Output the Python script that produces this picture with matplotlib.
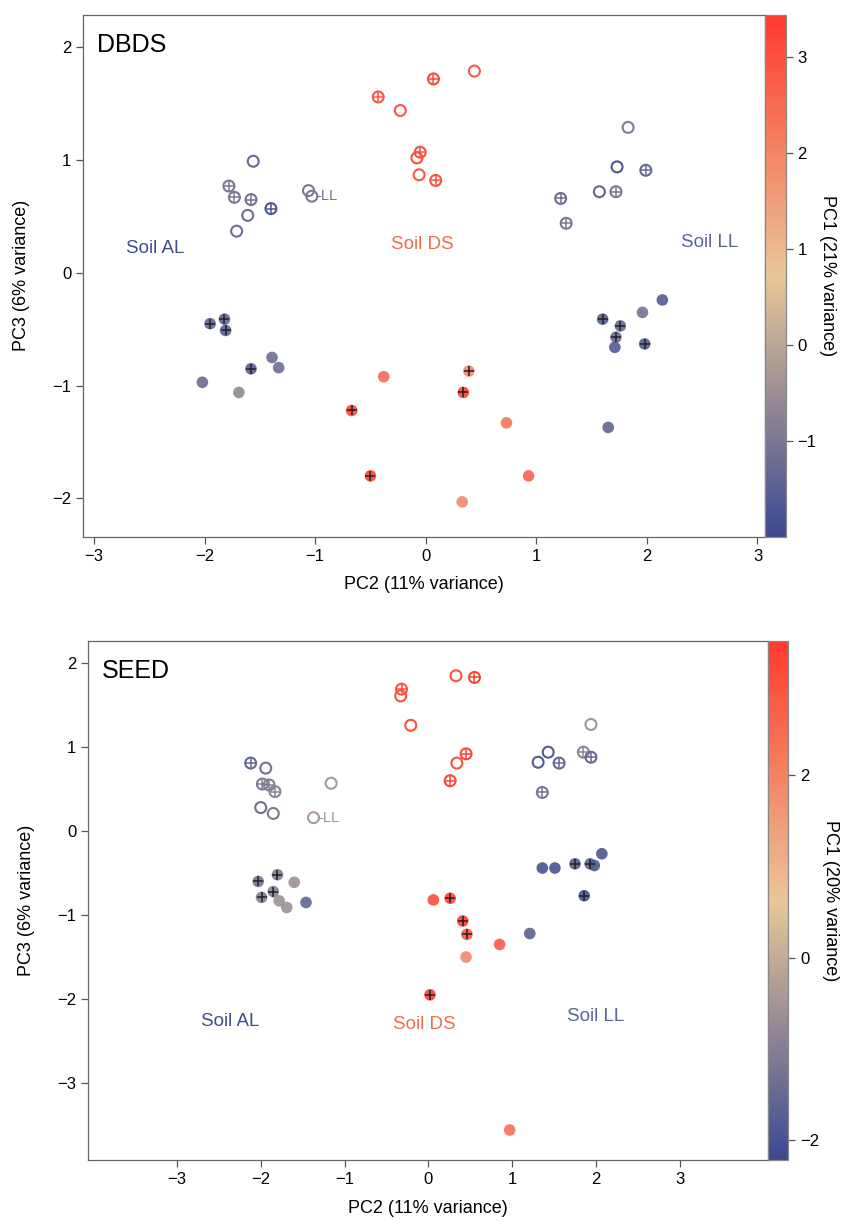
import matplotlib
matplotlib.use("Agg")
import matplotlib.pyplot as plt
import numpy as np
from matplotlib.colors import LinearSegmentedColormap, Normalize

plt.rcParams['font.family'] = ['Liberation Sans', 'DejaVu Sans']

# ---------------- DBDS panel data ----------------
dbds_x = [-1.56, -1.78, -1.73, -1.58, -1.40, -1.61, -1.71, -1.06, -1.03,
          -0.43, 0.07, 0.44, -0.23, -0.05, -0.08, -0.06, 0.09,
          1.83, 1.73, 1.99, 1.57, 1.72, 1.22, 1.27,
          -1.95, -1.82, -1.81, -1.39, -1.33, -1.58, -2.02, -1.69,
          -0.38, 0.39, 0.34, -0.67, 0.73, -0.50, 0.93, 0.33,
          2.14, 1.96, 1.60, 1.76, 1.72, 1.71, 1.98, 1.65]
dbds_y = [0.99, 0.77, 0.67, 0.65, 0.57, 0.51, 0.37, 0.73, 0.68,
          1.56, 1.72, 1.79, 1.44, 1.07, 1.02, 0.87, 0.82,
          1.29, 0.94, 0.91, 0.72, 0.72, 0.66, 0.44,
          -0.45, -0.41, -0.51, -0.75, -0.84, -0.85, -0.97, -1.06,
          -0.92, -0.87, -1.06, -1.22, -1.33, -1.80, -1.80, -2.03,
          -0.24, -0.35, -0.41, -0.47, -0.57, -0.66, -0.63, -1.37]
dbds_pc1 = [-1.3, -1.0, -1.0, -1.1, -1.7, -1.2, -1.2, -1.0, -1.0,
            2.9, 3.1, 2.8, 2.9, 3.0, 3.0, 2.9, 3.0,
            -0.9, -1.7, -1.3, -1.4, -1.0, -1.2, -1.0,
            -1.4, -1.4, -1.5, -1.2, -1.2, -1.5, -1.3, -0.6,
            2.5, 1.9, 3.3, 3.3, 2.3, 3.3, 2.6, 1.9,
            -1.6, -1.1, -1.6, -1.3, -1.3, -1.6, -1.6, -1.4]
dbds_filled = [0]*24 + [1]*24
dbds_cross = [0, 1, 1, 1, 1, 0, 0, 0, 0,
              1, 1, 0, 0, 1, 0, 0, 1,
              0, 0, 1, 0, 1, 1, 1,
              1, 1, 1, 0, 0, 1, 0, 0,
              0, 1, 1, 1, 0, 1, 0, 0,
              0, 0, 1, 1, 1, 0, 1, 0]
dbds_ll_label = (-1.03, 0.68)
dbds_groups = ["Soil AL", "Soil DS", "Soil LL"]
dbds_group_xy = [(-2.45, 0.22), (-0.03, 0.25), (2.57, 0.27)]

# ---------------- SEED panel data ----------------
seed_x = [-2.12, -1.94, -1.98, -1.90, -1.83, -2.00, -1.85, -1.16, -1.37,
          -0.32, -0.33, -0.21, 0.33, 0.55, 0.45, 0.34, 0.26,
          1.94, 1.43, 1.31, 1.56, 1.85, 1.94, 1.36,
          -2.03, -1.80, -1.60, -1.85, -1.99, -1.78, -1.69, -1.46,
          0.06, 0.26, 0.41, 0.46, 1.21, 0.85, 0.45, 0.02, 0.97,
          1.36, 1.51, 1.75, 1.93, 1.98, 2.07, 1.86]
seed_y = [0.81, 0.75, 0.56, 0.55, 0.47, 0.28, 0.21, 0.57, 0.16,
          1.69, 1.61, 1.26, 1.85, 1.83, 0.92, 0.81, 0.60,
          1.27, 0.94, 0.82, 0.81, 0.94, 0.88, 0.46,
          -0.60, -0.52, -0.61, -0.72, -0.79, -0.83, -0.91, -0.85,
          -0.82, -0.80, -1.07, -1.23, -1.22, -1.35, -1.50, -1.95, -3.56,
          -0.44, -0.44, -0.39, -0.39, -0.41, -0.27, -0.77]
seed_pc1 = [-1.5, -1.3, -1.1, -1.0, -0.9, -1.4, -1.1, -0.4, -0.4,
            3.0, 3.0, 3.0, 3.0, 3.3, 3.2, 3.0, 3.2,
            -0.5, -1.8, -1.8, -1.5, -0.9, -1.5, -1.2,
            -1.2, -1.1, -0.6, -1.0, -1.0, -0.6, -0.6, -1.6,
            3.1, 3.3, 3.4, 2.9, -1.7, 2.8, 1.9, 3.4, 2.4,
            -2.0, -2.0, -1.8, -1.6, -1.9, -1.9, -2.0]
seed_filled = [0]*24 + [1]*24
seed_cross = [1, 0, 1, 1, 1, 0, 0, 0, 0,
              1, 0, 0, 0, 1, 1, 0, 1,
              0, 0, 0, 1, 1, 1, 1,
              1, 1, 0, 1, 1, 0, 0, 0,
              0, 1, 1, 1, 0, 0, 0, 1, 0,
              0, 0, 1, 1, 0, 0, 1]
seed_ll_label = (-1.37, 0.16)
seed_groups = ["Soil AL", "Soil DS", "Soil LL"]
seed_group_xy = [(-2.37, -2.27), (-0.05, -2.30), (1.99, -2.21)]

group_colors = ["#3f4d8f", "#f36a4c", "#5a6499"]

cmap = LinearSegmentedColormap.from_list(
    "pc1", ["#3B4992", "#E9C797", "#FF3A2E"])

fig = plt.figure(figsize=(8.55, 12.2), dpi=100)


def fmt(t):
    return f"{t:g}".replace('-', '\u2212')


def panel(rect, crect, x, y, pc1, filled, cross, vmin, vmax, xlim, ylim,
          xticks, yticks, cticks, title, cbar_label, groups, group_xy,
          ll_xy, ll_color):
    ax = fig.add_axes(rect)
    cax = fig.add_axes(crect)
    norm = Normalize(vmin=vmin, vmax=vmax)
    x = np.asarray(x); y = np.asarray(y); pc1 = np.asarray(pc1)
    filled = np.asarray(filled, bool); cross = np.asarray(cross, bool)
    cols = cmap(norm(pc1))
    # open circles
    o = ~filled
    ax.scatter(x[o], y[o], s=62, facecolors='none', edgecolors=cols[o],
               linewidths=1.5, zorder=3)
    oc = o & cross
    ax.scatter(x[oc], y[oc], s=50, marker='+', c=cols[oc], linewidths=1.1,
               zorder=4)
    # filled
    ax.scatter(x[filled], y[filled], s=70, c=pc1[filled], cmap=cmap, norm=norm,
               edgecolors='none', alpha=0.9, zorder=3)
    fc = filled & cross
    ax.scatter(x[fc], y[fc], s=45, marker='+', color='#222222',
               linewidths=1.1, zorder=4)
    ax.annotate("-LL", xy=ll_xy, xytext=(3.5, 0), textcoords='offset points',
                ha='left', va='center', fontsize=10.5, color=ll_color)
    for g, (gx, gy), gc in zip(groups, group_xy, group_colors):
        ax.text(gx, gy, g, ha='center', va='center', fontsize=13.5, color=gc)
    ax.text(0.02, 0.965, title, transform=ax.transAxes, ha='left', va='top',
            fontsize=18)
    ax.set_xlim(*xlim); ax.set_ylim(*ylim)
    ax.set_xticks(xticks); ax.set_yticks(yticks)
    ax.set_xticklabels([fmt(t) for t in xticks])
    ax.set_yticklabels([fmt(t) for t in yticks])
    ax.set_xlabel("PC2 (11% variance)", fontsize=13, labelpad=9)
    ax.set_ylabel("PC3 (6% variance)", fontsize=13, labelpad=16)
    for s in ax.spines.values():
        s.set_color('#666666'); s.set_linewidth(0.9)
    ax.tick_params(labelsize=12, length=5, width=0.9, color='#555555',
                   direction='out')
    sm = matplotlib.cm.ScalarMappable(norm=norm, cmap=cmap)
    cb = fig.colorbar(sm, cax=cax, ticks=cticks)
    cb.outline.set_edgecolor('#888888'); cb.outline.set_linewidth(0.9)
    cb.ax.set_yticklabels([fmt(t) for t in cticks])
    cb.ax.tick_params(labelsize=12, length=5, width=0.9, color='#555555')
    cb.set_label(cbar_label, rotation=270, fontsize=13, labelpad=14)
    return ax


panel([0.097, 0.560, 0.798, 0.428], [0.895, 0.560, 0.024, 0.428],
      dbds_x, dbds_y, dbds_pc1, dbds_filled, dbds_cross,
      -2.0, 3.44, (-3.10, 3.07), (-2.34, 2.29),
      [-3, -2, -1, 0, 1, 2, 3], [-2, -1, 0, 1, 2], [-1, 0, 1, 2, 3],
      "DBDS", "PC1 (21% variance)", dbds_groups, dbds_group_xy,
      dbds_ll_label, "#6a70a0")

panel([0.103, 0.049, 0.795, 0.426], [0.898, 0.049, 0.024, 0.426],
      seed_x, seed_y, seed_pc1, seed_filled, seed_cross,
      -2.22, 3.48, (-4.06, 4.05), (-3.92, 2.27),
      [-3, -2, -1, 0, 1, 2, 3], [-3, -2, -1, 0, 1, 2], [-2, 0, 2],
      "SEED", "PC1 (20% variance)", seed_groups, seed_group_xy,
      seed_ll_label, "#9a96a2")

fig.savefig("out.png", dpi=100)
